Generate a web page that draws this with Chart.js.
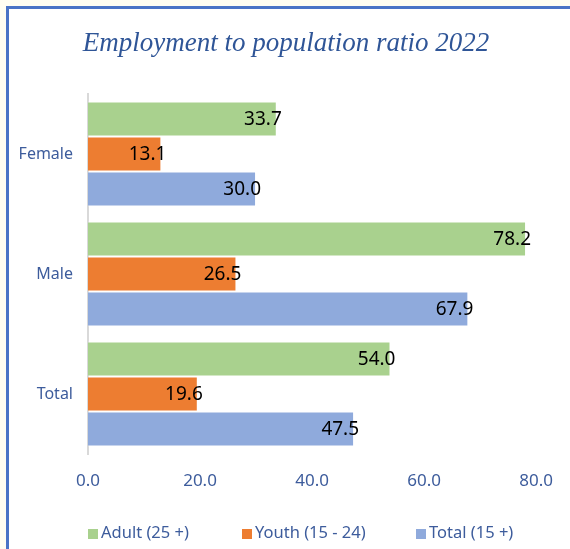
<!DOCTYPE html>
<html>
<head>
<meta charset="utf-8">
<title>Employment to population ratio 2022</title>
<script src="https://cdn.jsdelivr.net/npm/chart.js@4.4.1/dist/chart.umd.min.js"></script>
<style>
  html, body { margin: 0; padding: 0; width: 570px; height: 549px; overflow: hidden; background: #ffffff; }
  #wrap { position: absolute; left: 0; top: 0; width: 570px; height: 549px; }
</style>
</head>
<body>
<div id="wrap"><canvas id="chart" width="570" height="549"></canvas></div>
<script>
// Employment to population ratio, 2022 (%)
const categories = ['Female', 'Male', 'Total'];
const seriesNames = ['Adult (25 +)', 'Youth (15 - 24)', 'Total (15 +)'];
const adultValues = [33.7, 78.2, 54.0];
const youthValues = [13.1, 26.5, 19.6];
const totalValues = [30.0, 67.9, 47.5];
const xTicks = [0, 20, 40, 60, 80];

const colors = ['#a9d18e', '#ed7d31', '#8faadc'];
const textBlue = '#3d5c9c';
const labelFont = '"Noto Sans", sans-serif';

// Page background and the blue frame along the top and left edges
const framePlugin = {
  id: 'frame',
  beforeDraw(chart) {
    const { ctx, width, height } = chart;
    ctx.save();
    ctx.fillStyle = '#fffef2';
    ctx.fillRect(0, 0, width, height);
    ctx.fillStyle = '#ffffff';
    ctx.fillRect(6, 6, width - 6, height - 6);
    ctx.fillStyle = '#4a74c6';
    ctx.fillRect(6, 6, width - 6, 3);
    ctx.fillRect(6, 6, 3, height - 6);
    ctx.restore();
  }
};

// Title drawn centred above the plot
const titlePlugin = {
  id: 'titleText',
  afterDraw(chart) {
    const ctx = chart.ctx;
    ctx.save();
    ctx.font = 'italic 27px "Liberation Serif", serif';
    ctx.fillStyle = '#2f5597';
    ctx.textAlign = 'center';
    ctx.textBaseline = 'alphabetic';
    ctx.fillText('Employment to population ratio 2022', 286, 51);
    ctx.restore();
  }
};

// Value labels near the end of each bar
const valueLabels = {
  id: 'valueLabels',
  afterDatasetsDraw(chart) {
    const ctx = chart.ctx;
    ctx.save();
    ctx.font = '19px ' + labelFont;
    ctx.fillStyle = '#000000';
    ctx.textAlign = 'right';
    ctx.textBaseline = 'middle';
    chart.data.datasets.forEach((ds, di) => {
      chart.getDatasetMeta(di).data.forEach((bar, i) => {
        ctx.fillText(ds.data[i].toFixed(1), bar.x + 5, bar.y + 1);
      });
    });
    ctx.restore();
  }
};

// Legend row under the axis
const legendRow = {
  id: 'legendRow',
  afterDraw(chart) {
    const ctx = chart.ctx;
    const starts = [88, 242, 416];
    ctx.save();
    ctx.font = '16.5px ' + labelFont;
    ctx.textBaseline = 'middle';
    ctx.textAlign = 'left';
    chart.data.datasets.forEach((ds, i) => {
      const x = starts[i];
      ctx.fillStyle = ds.backgroundColor;
      ctx.fillRect(x, 529, 10, 10);
      ctx.fillStyle = textBlue;
      ctx.fillText(ds.label, x + 13, 533);
    });
    ctx.restore();
  }
};

const values = [adultValues, youthValues, totalValues];

new Chart(document.getElementById('chart'), {
  type: 'bar',
  data: {
    labels: categories,
    datasets: seriesNames.map((name, i) => ({
      label: name,
      data: values[i],
      backgroundColor: colors[i],
      borderColor: 'rgba(255,255,255,0.55)',
      borderWidth: 1,
      borderSkipped: 'start',
      categoryPercentage: 0.875,
      barPercentage: 1.0
    }))
  },
  options: {
    indexAxis: 'y',
    responsive: false,
    animation: false,
    layout: { padding: { top: 94, right: 31, bottom: 55, left: 0 } },
    plugins: {
      legend: { display: false },
      title: { display: false },
      tooltip: { enabled: false }
    },
    scales: {
      x: {
        min: 0,
        max: 80,
        afterBuildTicks(scale) { scale.ticks = xTicks.map(v => ({ value: v })); },
        afterFit(scale) { scale.height = 40; },
        grid: { display: false, drawTicks: false },
        border: { display: false },
        ticks: {
          padding: 17,
          color: textBlue,
          font: { family: labelFont, size: 17 },
          callback: v => Number(v).toFixed(1)
        }
      },
      y: {
        afterFit(scale) { scale.width = 88; },
        grid: { display: false, drawTicks: false },
        border: { display: true, color: '#d9d9d9', width: 2 },
        ticks: {
          padding: 15,
          color: textBlue,
          font: { family: labelFont, size: 16 }
        }
      }
    }
  },
  plugins: [framePlugin, titlePlugin, valueLabels, legendRow]
});
</script>
</body>
</html>
